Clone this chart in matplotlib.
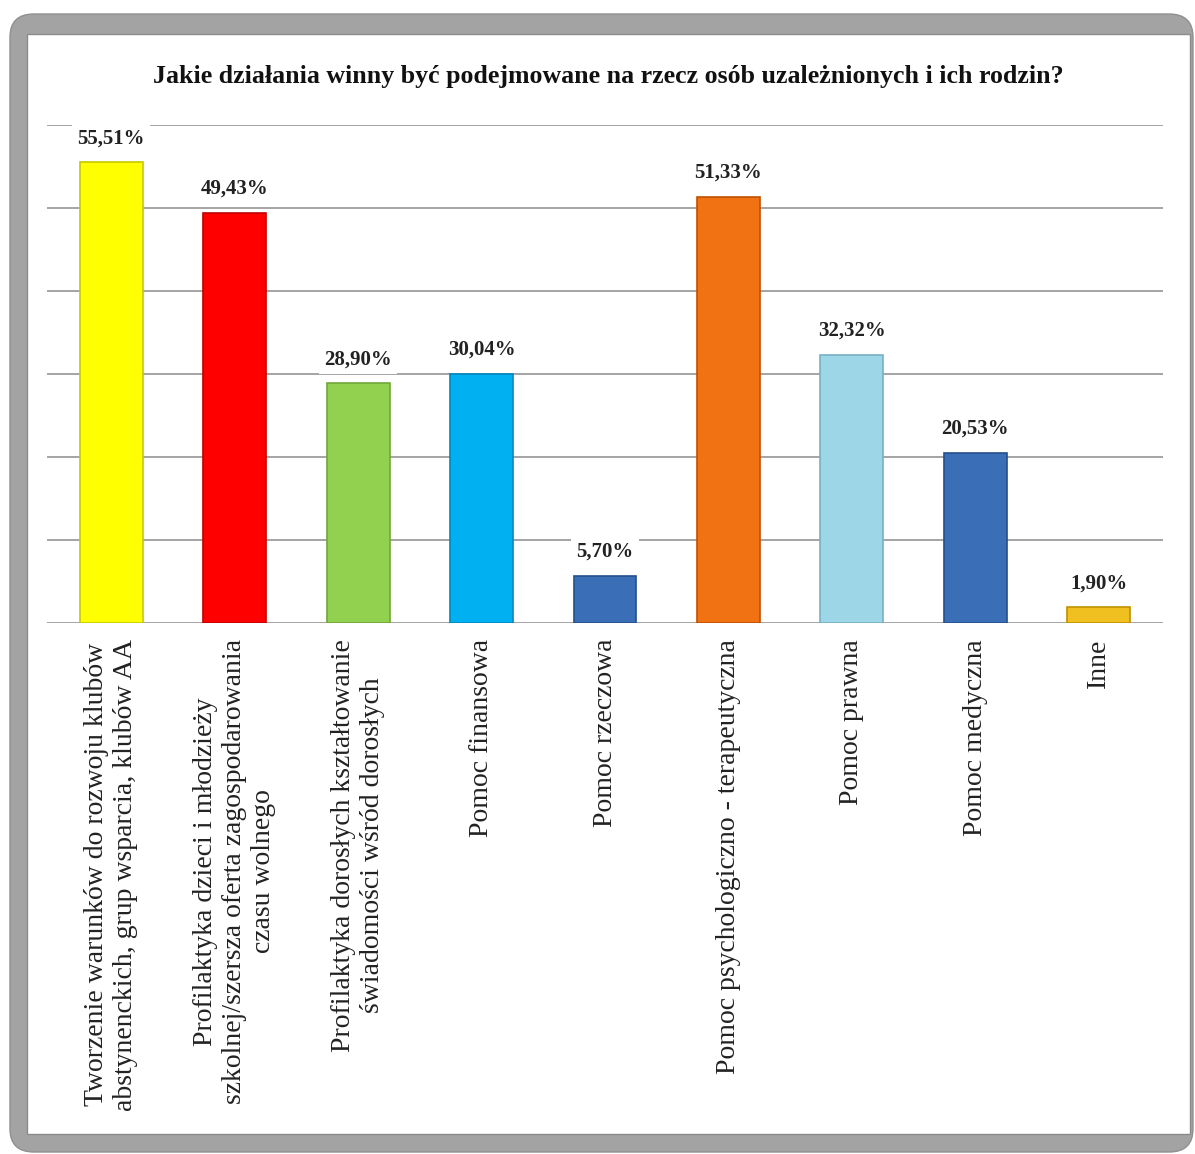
import numpy as np
import matplotlib.pyplot as plt
from matplotlib.patches import FancyBboxPatch, Rectangle

# data
categories = [
    'Tworzenie warunków do rozwoju klubów\nabstynenckich, grup wsparcia, klubów AA',
    'Profilaktyka dzieci i młodzieży\nszkolnej/szersza oferta zagospodarowania\nczasu wolnego',
    'Profilaktyka dorosłych kształtowanie\nświadomości wśród dorosłych',
    'Pomoc finansowa',
    'Pomoc rzeczowa',
    'Pomoc psychologiczno - terapeutyczna',
    'Pomoc prawna',
    'Pomoc medyczna',
    'Inne',
]
values = [55.51, 49.43, 28.90, 30.04, 5.70, 51.33, 32.32, 20.53, 1.90]
colors = ['#ffff00', '#ff0000', '#92d050', '#00b0f0', '#3a6fb8',
          '#f07212', '#9dd6e6', '#3a6fb8', '#f0c020']
edges = ['#c8c800', '#c00000', '#6fa838', '#0088c0', '#24508a',
         '#c05000', '#78b0c4', '#24508a', '#c09000']

W, H = 1195, 1154
fig = plt.figure(figsize=(W/100, H/100), dpi=100)
fig.patch.set_facecolor('white')

# grey rounded frame + white panel (behind the axes)
fig.patches.append(FancyBboxPatch((10/W, 1 - 1152/H), 1183/W, 1138/H,
                                  boxstyle='round,pad=0,rounding_size=0.02',
                                  transform=fig.transFigure, facecolor='#a3a3a3',
                                  edgecolor='#909090', lw=1, zorder=-2))
fig.patches.append(Rectangle((27/W, 1 - 1134/H), 1163/W, 1100/H,
                             transform=fig.transFigure, facecolor='white',
                             edgecolor='#8a8a8a', lw=1, zorder=-1))

ax = fig.add_axes([47/W, 1 - 623/H, (1163-47)/W, (623-125)/H])
ax.set_facecolor('none')
x = np.arange(len(values))
ax.bar(x, values, width=0.51, color=colors, edgecolor=edges, linewidth=1.2, zorder=3)
ax.set_xlim(-0.52, len(values) - 0.48)
ax.set_ylim(0, 60)
ax.set_yticks(np.arange(0, 61, 10))
ax.yaxis.grid(True, color='#8c8c8c', lw=1.1)
ax.set_axisbelow(True)
ax.tick_params(axis='y', left=False, labelleft=False)
ax.tick_params(axis='x', bottom=False, pad=8)
for s in ax.spines.values():
    s.set_visible(False)

ax.set_xticks(x)
ax.set_xticklabels(categories, rotation=90, va='top', ha='center',
                   multialignment='center', family='Liberation Serif',
                   fontsize=20, linespacing=1.2, color='#222222')

for xi, v in zip(x, values):
    ax.annotate(('%.2f%%' % v).replace('.', ','), (xi, v), xytext=(0, 10),
                textcoords='offset points', ha='center', va='bottom',
                family='Liberation Serif', fontweight='bold', fontsize=15,
                color='#222222',
                bbox=dict(boxstyle='square,pad=0.25', fc='white', ec='none'))

fig.text(608/W, 1 - 77/H,
         'Jakie działania winny być podejmowane na rzecz osób uzależnionych i ich rodzin?',
         ha='center', va='center', family='Liberation Serif', fontweight='bold',
         fontsize=18.6, color='#111111')

fig.savefig('out.png', dpi=100)
